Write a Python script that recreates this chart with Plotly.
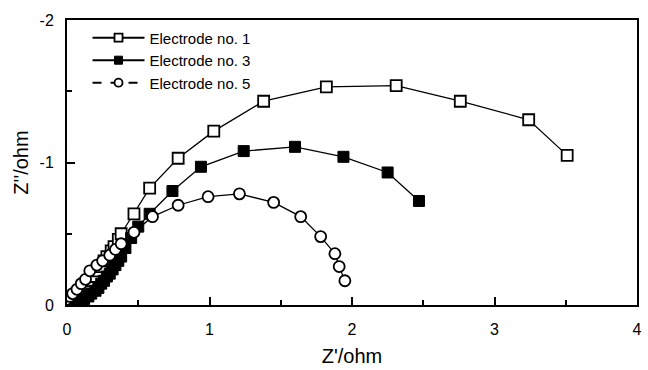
import plotly.graph_objects as go

# Electrode no. 1 (open squares)
e1_x = [0.02, 0.04, 0.06, 0.09, 0.11, 0.14, 0.16, 0.18, 0.20, 0.22, 0.24, 0.26, 0.28, 0.31, 0.33, 0.36, 0.38, 0.47, 0.58, 0.78, 1.03, 1.38, 1.82, 2.31, 2.76, 3.24, 3.51]
e1_y = [-0.01, -0.02, -0.04, -0.06, -0.08, -0.11, -0.13, -0.17, -0.20, -0.24, -0.27, -0.31, -0.34, -0.38, -0.41, -0.46, -0.50, -0.64, -0.82, -1.03, -1.22, -1.43, -1.53, -1.54, -1.43, -1.30, -1.05]

# Electrode no. 3 (filled squares)
e3_x = [0.05, 0.08, 0.10, 0.12, 0.15, 0.17, 0.20, 0.22, 0.24, 0.26, 0.28, 0.30, 0.32, 0.34, 0.36, 0.38, 0.41, 0.45, 0.50, 0.58, 0.74, 0.94, 1.24, 1.60, 1.94, 2.25, 2.47]
e3_y = [-0.01, -0.02, -0.03, -0.04, -0.06, -0.08, -0.10, -0.12, -0.15, -0.17, -0.20, -0.22, -0.25, -0.28, -0.31, -0.34, -0.40, -0.47, -0.55, -0.64, -0.80, -0.97, -1.08, -1.11, -1.04, -0.93, -0.73]

# Electrode no. 5 (open circles)
e5_x = [0.00, 0.02, 0.04, 0.07, 0.10, 0.13, 0.16, 0.21, 0.25, 0.30, 0.34, 0.38, 0.47, 0.60, 0.78, 0.99, 1.21, 1.45, 1.64, 1.78, 1.88, 1.91, 1.95]
e5_y = [-0.04, -0.06, -0.08, -0.11, -0.15, -0.18, -0.24, -0.28, -0.31, -0.35, -0.39, -0.43, -0.51, -0.62, -0.70, -0.76, -0.78, -0.72, -0.62, -0.48, -0.36, -0.27, -0.17]

names = ["Electrode no. 1", "Electrode no. 3", "Electrode no. 5"]
x_ticks = [0, 1, 2, 3, 4]
y_ticks = [0, -1, -2]

FONT = "Liberation Sans, Arial, sans-serif"

fig = go.Figure()

series = [
    (e1_x, e1_y, dict(symbol="square", size=11, color="white", line=dict(color="black", width=1.8)), "solid"),
    (e3_x, e3_y, dict(symbol="square", size=11, color="black", line=dict(color="black", width=1)), "solid"),
    (e5_x, e5_y, dict(symbol="circle", size=11, color="white", line=dict(color="black", width=1.8)), "dash"),
]

for (xs, ys, mk, dash), nm in zip(series, names):
    fig.add_trace(go.Scatter(x=xs, y=ys, mode="lines+markers", name=nm,
                             line=dict(color="black", width=1.3),
                             marker=mk, showlegend=False))

for (xs, ys, mk, dash), nm in zip(series, names):
    fig.add_trace(go.Scatter(x=[None], y=[None], mode="lines+markers", name=nm,
                             line=dict(color="black", width=2, dash=dash),
                             marker=dict(mk, size=8), showlegend=True))

fig.update_layout(
    width=648, height=370,
    margin=dict(l=67, r=6, t=20, b=63),
    paper_bgcolor="white", plot_bgcolor="white",
    font=dict(family=FONT, color="black", size=16),
    legend=dict(x=0.036, y=0.995, xanchor="left", yanchor="top",
                bgcolor="rgba(0,0,0,0)", font=dict(size=15, family=FONT),
                tracegroupgap=0, itemwidth=52),
    xaxis=dict(range=[0, 4], tickvals=x_ticks, ticktext=[str(v) for v in x_ticks],
               ticks="inside", ticklen=8, tickwidth=2, tickcolor="black",
               minor=dict(dtick=0.5, ticks="inside", ticklen=5, tickwidth=1.5, tickcolor="black"),
               showline=True, linecolor="black", linewidth=2, mirror=True,
               showgrid=False, zeroline=False,
               ticklabelstandoff=9,
               title=dict(text="Z'/ohm", font=dict(size=20), standoff=12)),
    yaxis=dict(range=[0, -2], tickvals=y_ticks, ticktext=[str(v) for v in y_ticks],
               ticks="inside", ticklen=8, tickwidth=2, tickcolor="black",
               minor=dict(dtick=0.5, ticks="inside", ticklen=5, tickwidth=1.5, tickcolor="black"),
               showline=True, linecolor="black", linewidth=2, mirror=True,
               showgrid=False, zeroline=False,
               ticklabelstandoff=8,
               title=dict(text="Z''/ohm", font=dict(size=20), standoff=6)),
)

fig.write_html("out.html")
